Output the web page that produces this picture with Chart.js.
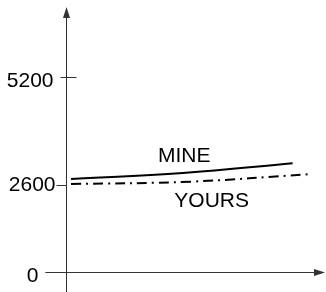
<!DOCTYPE html>
<html>
<head>
<meta charset="utf-8">
<script src="https://cdn.jsdelivr.net/npm/chart.js@4"></script>
<style>
  html, body { margin: 0; padding: 0; background: #fff; }
  #wrap { width: 326px; height: 292px; }
</style>
</head>
<body>
<div id="wrap"><canvas id="myChart"></canvas></div>
<script>
// data (y in axis units, x in 0..100 across the axis)
const mineX = [2, 47, 91];
const mineY = [2780, 2960, 3250];
const yoursX = [2, 50, 97];
const yoursY = [2630, 2700, 2920];

// tick positions on the axis and the text printed next to them
const tickValues = [0, 2600, 5830];
const tickLabels = ['0', '2600', '5200'];

const seriesNames = ['MINE', 'YOURS'];

const FONT = '21px "Liberation Sans", Arial, sans-serif';
const AXIS = '#333';

function pts(xs, ys) {
    return xs.map((x, i) => ({ x: x, y: ys[i] }));
}

// hand-drawn looking axes: arrows, crossing tick marks, labels
const axesPlugin = {
    id: 'sketchAxes',
    afterDraw(chart) {
        const c = chart.ctx;
        const xs = chart.scales.x, ys = chart.scales.y;
        const ax = Math.round(xs.left) + 0.5;
        const ay = Math.round(ys.getPixelForValue(0)) + 0.5;
        c.save();
        c.strokeStyle = AXIS;
        c.fillStyle = AXIS;
        c.lineWidth = 1;

        // y axis
        c.beginPath();
        c.moveTo(ax, chart.height);
        c.lineTo(ax, ys.top + 4);
        c.stroke();
        c.beginPath();
        c.moveTo(ax, ys.top);
        c.lineTo(ax - 3.5, ys.top + 11);
        c.lineTo(ax + 3.5, ys.top + 11);
        c.closePath();
        c.fill();

        // x axis
        c.beginPath();
        c.moveTo(ax - 21, ay);
        c.lineTo(chart.width - 4, ay);
        c.stroke();
        c.beginPath();
        c.moveTo(chart.width - 1, ay);
        c.lineTo(chart.width - 12, ay - 3.5);
        c.lineTo(chart.width - 12, ay + 3.5);
        c.closePath();
        c.fill();

        // tick marks: [from, to] relative to axis, label right edge, label nudge
        const marks = [[-21, 0, -28, 4], [-10, 0, -11, 0], [-6, 10, -13, 4]];
        c.font = FONT;
        c.textAlign = 'right';
        c.textBaseline = 'middle';
        tickValues.forEach((v, i) => {
            const py = Math.round(ys.getPixelForValue(v)) + 0.5;
            const m = marks[i];
            c.strokeStyle = AXIS;
            c.beginPath();
            c.moveTo(ax + m[0], py);
            c.lineTo(ax + m[1], py);
            c.stroke();
            c.fillStyle = '#000';
            c.fillText(tickLabels[i], ax + m[2], py + m[3]);
        });

        // series names next to their lines
        const anchors = [[47.5, 3470], [58.5, 2120]];
        c.textAlign = 'center';
        seriesNames.forEach((name, i) => {
            c.fillText(name, xs.getPixelForValue(anchors[i][0]), ys.getPixelForValue(anchors[i][1]));
        });
        c.restore();
    }
};

const ctx = document.getElementById('myChart');

new Chart(ctx, {
    type: 'line',
    data: {
        datasets: [{
            label: seriesNames[0],
            data: pts(mineX, mineY),
            borderColor: '#000',
            borderWidth: 2,
            pointRadius: 0,
            tension: 0.4,
        },
        {
            label: seriesNames[1],
            data: pts(yoursX, yoursY),
            borderColor: '#000',
            borderWidth: 2,
            borderDash: [10, 5, 2, 5],
            pointRadius: 0,
            tension: 0.4,
        }]
    },
    options: {
        responsive: true,
        maintainAspectRatio: false,
        animation: false,
        layout: {
            padding: { left: 66, top: 7, right: 11, bottom: 20 }
        },
        plugins: {
            legend: { display: false },
            tooltip: { enabled: false },
        },
        scales: {
            x: { type: 'linear', display: false, min: 0, max: 100 },
            y: { display: false, min: 0, max: 7920 }
        }
    },
    plugins: [axesPlugin]
});
</script>
</body>
</html>
